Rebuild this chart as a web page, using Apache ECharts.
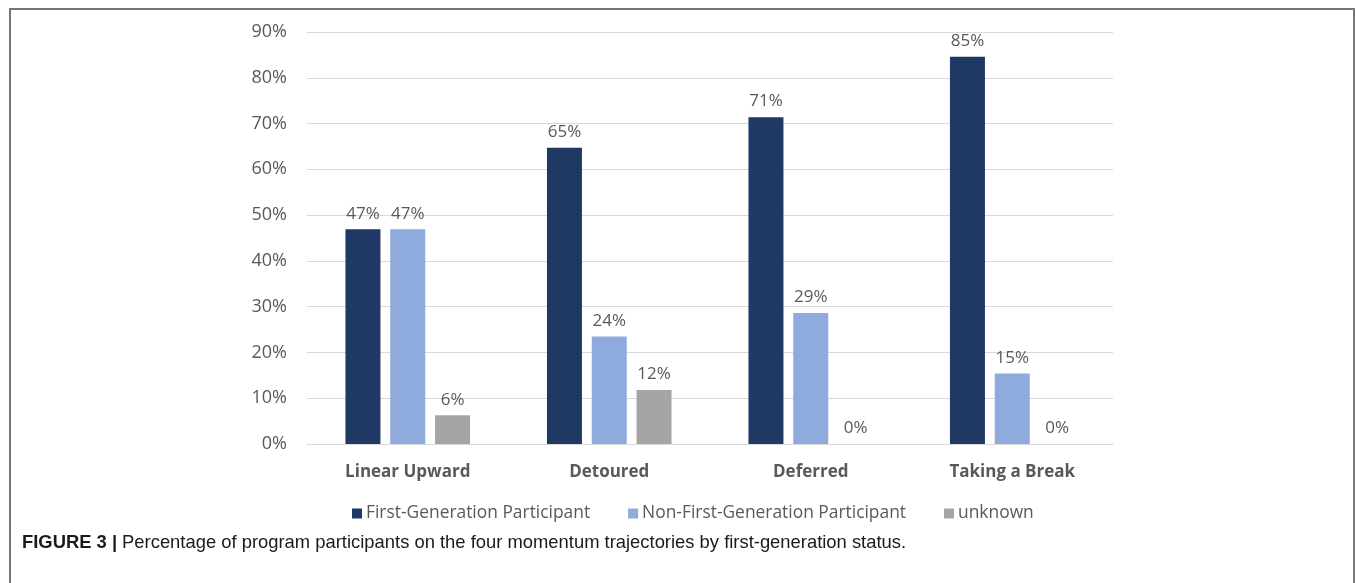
<!DOCTYPE html>
<html>
<head>
<meta charset="utf-8">
<script src="https://cdn.jsdelivr.net/npm/echarts@6/dist/echarts.min.js"></script>
<style>
html,body{margin:0;padding:0;background:#fff;}
#frame{position:absolute;left:9px;top:8px;width:1346px;height:600px;border:2px solid #777;border-bottom:none;box-sizing:border-box;}
#chart{position:absolute;left:0;top:0;width:1355px;height:583px;}
</style>
</head>
<body>
<div id="frame"></div>
<div id="chart"></div>
<script>
const categories = ['Linear Upward', 'Detoured', 'Deferred', 'Taking a Break'];
const seriesNames = ['First-Generation Participant', 'Non-First-Generation Participant', 'unknown'];
const firstGen = [46.9, 64.7, 71.4, 84.6];
const nonFirstGen = [46.9, 23.5, 28.6, 15.4];
const unknown = [6.3, 11.8, 0, 0];
const yTicks = [0, 10, 20, 30, 40, 50, 60, 70, 80, 90];
const colors = ['#203864', '#8FAADC', '#A5A5A5'];

const chart = echarts.init(document.getElementById('chart'));
const labelStyle = {
  show: true, position: 'top', distance: 7,
  color: '#595959', fontSize: 17, fontFamily: 'Open Sans',
  formatter: p => Math.round(p.value) + '%'
};
function mk(name, data, i) {
  return {
    name: name, type: 'bar', data: data,
    barWidth: 35, barGap: '28%',
    itemStyle: { color: colors[i] },
    label: labelStyle
  };
}
chart.setOption({
  animation: false,
  grid: { left: 307, right: 242, top: 32, bottom: 139 },
  xAxis: {
    type: 'category', data: categories,
    axisLine: { lineStyle: { color: '#D9D9D9', width: 1 } },
    axisTick: { show: false },
    axisLabel: { color: '#595959', fontSize: 17, fontWeight: 'bold', fontFamily: 'Open Sans', margin: 20 }
  },
  yAxis: {
    type: 'value', min: yTicks[0], max: yTicks[yTicks.length - 1], interval: 10,
    axisLine: { show: false }, axisTick: { show: false },
    splitLine: { lineStyle: { color: '#D9D9D9', width: 1 } },
    axisLabel: { color: '#595959', fontSize: 18, fontFamily: 'Open Sans', margin: 20, formatter: v => v + '%' }
  },
  legend: {
    left: 347, top: 500, icon: 'rect', itemWidth: 10, itemHeight: 10, itemGap: 38,
    textStyle: { color: '#595959', fontSize: 17.4, fontFamily: 'Open Sans', padding: [0, 0, 0, -1] },
    data: seriesNames
  },
  title: {
    left: 17, top: 529,
    text: '{b|FIGURE 3 |} {r|Percentage of program participants on the four momentum trajectories by first-generation status.}',
    textStyle: {
      fontWeight: 'normal',
      rich: {
        b: { fontFamily: 'Liberation Sans', fontWeight: 'bold', fontSize: 18.4, color: '#1a1a1a' },
        r: { fontFamily: 'Liberation Sans', fontWeight: 'normal', fontSize: 18.4, color: '#1a1a1a' }
      }
    }
  },
  series: [mk(seriesNames[0], firstGen, 0), mk(seriesNames[1], nonFirstGen, 1), mk(seriesNames[2], unknown, 2)]
});
</script>
</body>
</html>
